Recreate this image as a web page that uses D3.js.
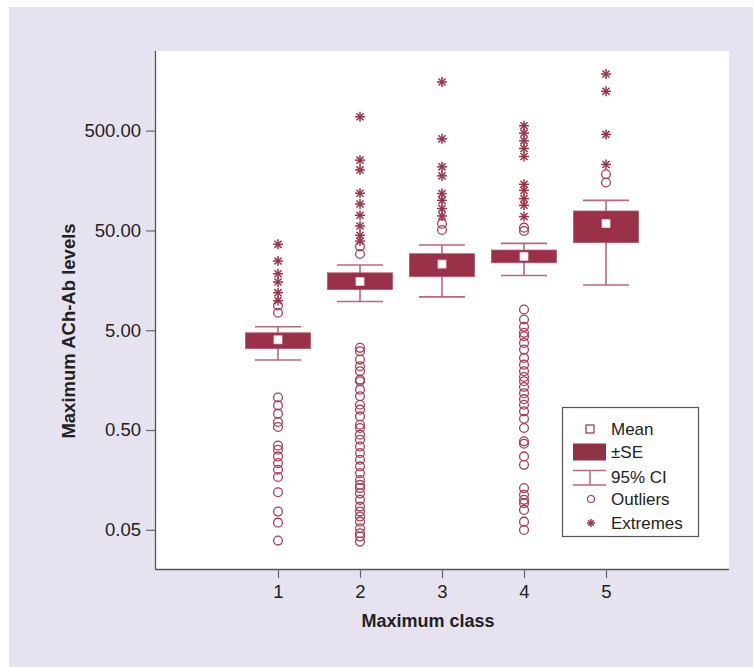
<!DOCTYPE html>
<html>
<head>
<meta charset="utf-8">
<script src="https://cdn.jsdelivr.net/npm/d3@7"></script>
<style>
  body { margin: 0; background: #fff; }
  text { font-family: "Liberation Sans", Arial, sans-serif; }
</style>
</head>
<body>
<div id="chart"></div>
<script>
// values
var classes = [1, 2, 3, 4, 5];
var means = [4.01, 15.4, 23.0, 27.5, 58.5];
var seLow = [3.27, 12.8, 17.2, 23.7, 37.7];
var seHigh = [4.71, 18.8, 29.2, 31.8, 78.3];
var ciLow = [2.52, 9.7, 10.8, 17.7, 14.2];
var ciHigh = [5.41, 22.5, 35.7, 37.1, 100];

var outliers = [
  [8.85, 7.48, 1.06, 0.883, 0.730, 0.601, 0.536, 0.350, 0.317, 0.272, 0.233, 0.200, 0.169, 0.119, 0.0762, 0.0590, 0.0390],
  [34.6, 29.0, 3.33, 3.08, 2.54, 2.18, 1.94, 1.60, 1.54, 1.27, 1.09, 0.897, 0.80, 0.685, 0.565, 0.524, 0.449, 0.400,
   0.342, 0.294, 0.252, 0.216, 0.185, 0.158, 0.141, 0.131, 0.116, 0.0998, 0.0855, 0.0762, 0.0679, 0.0604, 0.0519,
   0.0462, 0.0428, 0.0381],
  [58.5, 50.5],
  [53.3, 49.3, 8.07, 6.41, 5.41, 4.71, 4.35, 3.73, 3.20, 2.64, 2.26, 1.94, 1.70, 1.54, 1.35, 1.17, 1.02, 0.897,
   0.769, 0.649, 0.524, 0.385, 0.364, 0.272, 0.224, 0.131, 0.112, 0.0998, 0.0925, 0.0792, 0.0604, 0.0499],
  [183, 151]
];
var extremes = [
  [36.3, 24.7, 18.4, 15.2, 11.9, 9.9],
  [688, 253, 202, 118, 92, 71, 55.4, 44.7, 39.1],
  [1535, 414, 217, 176, 117, 100, 82.8, 69.8],
  [559, 472, 395, 331, 275, 145, 126, 104, 89.3, 68.8],
  [1845, 1238, 458, 229]
];
var yTicks = [0.05, 0.5, 5, 50, 500];
var legendLabels = ["Mean", "\u00b1SE", "95% CI", "Outliers", "Extremes"];

function drawChart() {
  var W = 753, H = 667;
  var col = "#9b3148", whisk = "#b8687a", ocol = "#a83c55";

  var svg = d3.select("#chart").append("svg")
    .attr("width", W).attr("height", H);

  // lavender panel
  svg.append("rect").attr("x", 9).attr("y", 7).attr("width", W - 9).attr("height", H - 7)
    .attr("fill", "#e6e2f0");

  var pLeft = 155, pRight = 729, pTop = 51, pBottom = 569;
  svg.append("rect").attr("x", pLeft).attr("y", pTop)
    .attr("width", pRight - pLeft).attr("height", pBottom - pTop).attr("fill", "#fff");

  var x = d3.scaleLinear().domain([-0.5, 6.5]).range([pLeft, pRight]);
  var y = d3.scaleLog().domain([0.02025, 3140]).range([pBottom, pTop]);

  // axes
  var yAxis = svg.append("g").attr("transform", "translate(" + pLeft + ",0)")
    .call(d3.axisLeft(y).tickValues(yTicks).tickFormat(d3.format(".2f")).tickSize(9).tickPadding(5));
  var xAxis = svg.append("g").attr("transform", "translate(0," + pBottom + ")")
    .call(d3.axisBottom(x).tickValues(classes).tickFormat(d3.format("d")).tickSize(9).tickPadding(7));
  [yAxis, xAxis].forEach(function (g) {
    g.attr("font-size", 18.5).attr("font-family", "Liberation Sans, Arial, sans-serif");
    g.select(".domain").attr("stroke", "#555").attr("stroke-width", 1.3);
    g.selectAll(".tick line").attr("stroke", "#666").attr("stroke-width", 1.2);
    g.selectAll(".tick text").attr("fill", "#222");
  });
  yAxis.select(".domain").attr("d", "M0.5," + pTop + "V" + (pBottom + 0.5));
  xAxis.select(".domain").attr("d", "M" + pLeft + ",0.5H" + pRight);

  svg.append("text").attr("transform", "translate(75,331) rotate(-90)")
    .attr("text-anchor", "middle").attr("font-weight", "bold").attr("font-size", 18.5)
    .attr("fill", "#222").text("Maximum ACh-Ab levels");
  svg.append("text").attr("x", 428).attr("y", 627)
    .attr("text-anchor", "middle").attr("font-weight", "bold").attr("font-size", 18)
    .attr("fill", "#222").text("Maximum class");

  var boxW = 65, capW = 46;

  function asterisk(g, cx, cy, r) {
    for (var k = 0; k < 4; k++) {
      var a = k * Math.PI / 4;
      g.append("line")
        .attr("x1", cx - r * Math.cos(a)).attr("y1", cy - r * Math.sin(a))
        .attr("x2", cx + r * Math.cos(a)).attr("y2", cy + r * Math.sin(a))
        .attr("stroke", col).attr("stroke-width", 1.5);
    }
  }

  classes.forEach(function (c, i) {
    var g = svg.append("g");
    var cx = x(c);
    // whiskers (95% CI)
    g.append("line").attr("x1", cx).attr("x2", cx).attr("y1", y(ciHigh[i])).attr("y2", y(ciLow[i]))
      .attr("stroke", whisk).attr("stroke-width", 1.6);
    [ciHigh[i], ciLow[i]].forEach(function (v) {
      g.append("line").attr("x1", cx - capW / 2).attr("x2", cx + capW / 2)
        .attr("y1", y(v)).attr("y2", y(v)).attr("stroke", whisk).attr("stroke-width", 1.6);
    });
    // SE box
    g.append("rect").attr("x", cx - boxW / 2).attr("width", boxW)
      .attr("y", y(seHigh[i])).attr("height", y(seLow[i]) - y(seHigh[i]))
      .attr("fill", col).attr("stroke", "#b2576b").attr("stroke-width", 0.8);
    // mean
    g.append("rect").attr("x", cx - 4).attr("y", y(means[i]) - 4).attr("width", 8).attr("height", 8)
      .attr("fill", "#fff").attr("stroke", "#e9d6da").attr("stroke-width", 0.8);
    // outliers
    g.selectAll("circle").data(outliers[i]).enter().append("circle")
      .attr("cx", cx).attr("cy", function (d) { return y(d); }).attr("r", 4.4)
      .attr("fill", "none").attr("stroke", ocol).attr("stroke-width", 1.3);
    extremes[i].forEach(function (v) { asterisk(g, cx, y(v), 5); });
  });

  // legend
  var lg = svg.append("g");
  lg.append("rect").attr("x", 562.5).attr("y", 407.5).attr("width", 136).attr("height", 129)
    .attr("fill", "#fff").attr("stroke", "#555").attr("stroke-width", 1.2);
  var lx = 590, rowY = [429, 452, 477, 499, 523];
  lg.append("rect").attr("x", lx - 4).attr("y", rowY[0] - 4).attr("width", 8).attr("height", 8)
    .attr("fill", "#fff").attr("stroke", col).attr("stroke-width", 1.2);
  lg.append("rect").attr("x", 573).attr("y", rowY[1] - 8.5).attr("width", 33).attr("height", 17)
    .attr("fill", "#8e3444");
  lg.append("line").attr("x1", 573).attr("x2", 606).attr("y1", 470.5).attr("y2", 470.5).attr("stroke", whisk).attr("stroke-width", 1.5);
  lg.append("line").attr("x1", 573).attr("x2", 606).attr("y1", 485).attr("y2", 485).attr("stroke", whisk).attr("stroke-width", 1.5);
  lg.append("line").attr("x1", lx).attr("x2", lx).attr("y1", 470.5).attr("y2", 485).attr("stroke", whisk).attr("stroke-width", 1.5);
  lg.append("circle").attr("cx", lx + 1).attr("cy", rowY[3]).attr("r", 3.5)
    .attr("fill", "none").attr("stroke", ocol).attr("stroke-width", 1.2);
  asterisk(lg, lx + 1, rowY[4], 4);
  lg.selectAll("text.leg").data(legendLabels).enter().append("text")
    .attr("class", "leg").attr("x", 611).attr("y", function (d, i) { return rowY[i]; })
    .attr("dy", "0.36em").attr("font-size", 17).attr("fill", "#222")
    .text(function (d) { return d; });
}

drawChart();
</script>
</body>
</html>
